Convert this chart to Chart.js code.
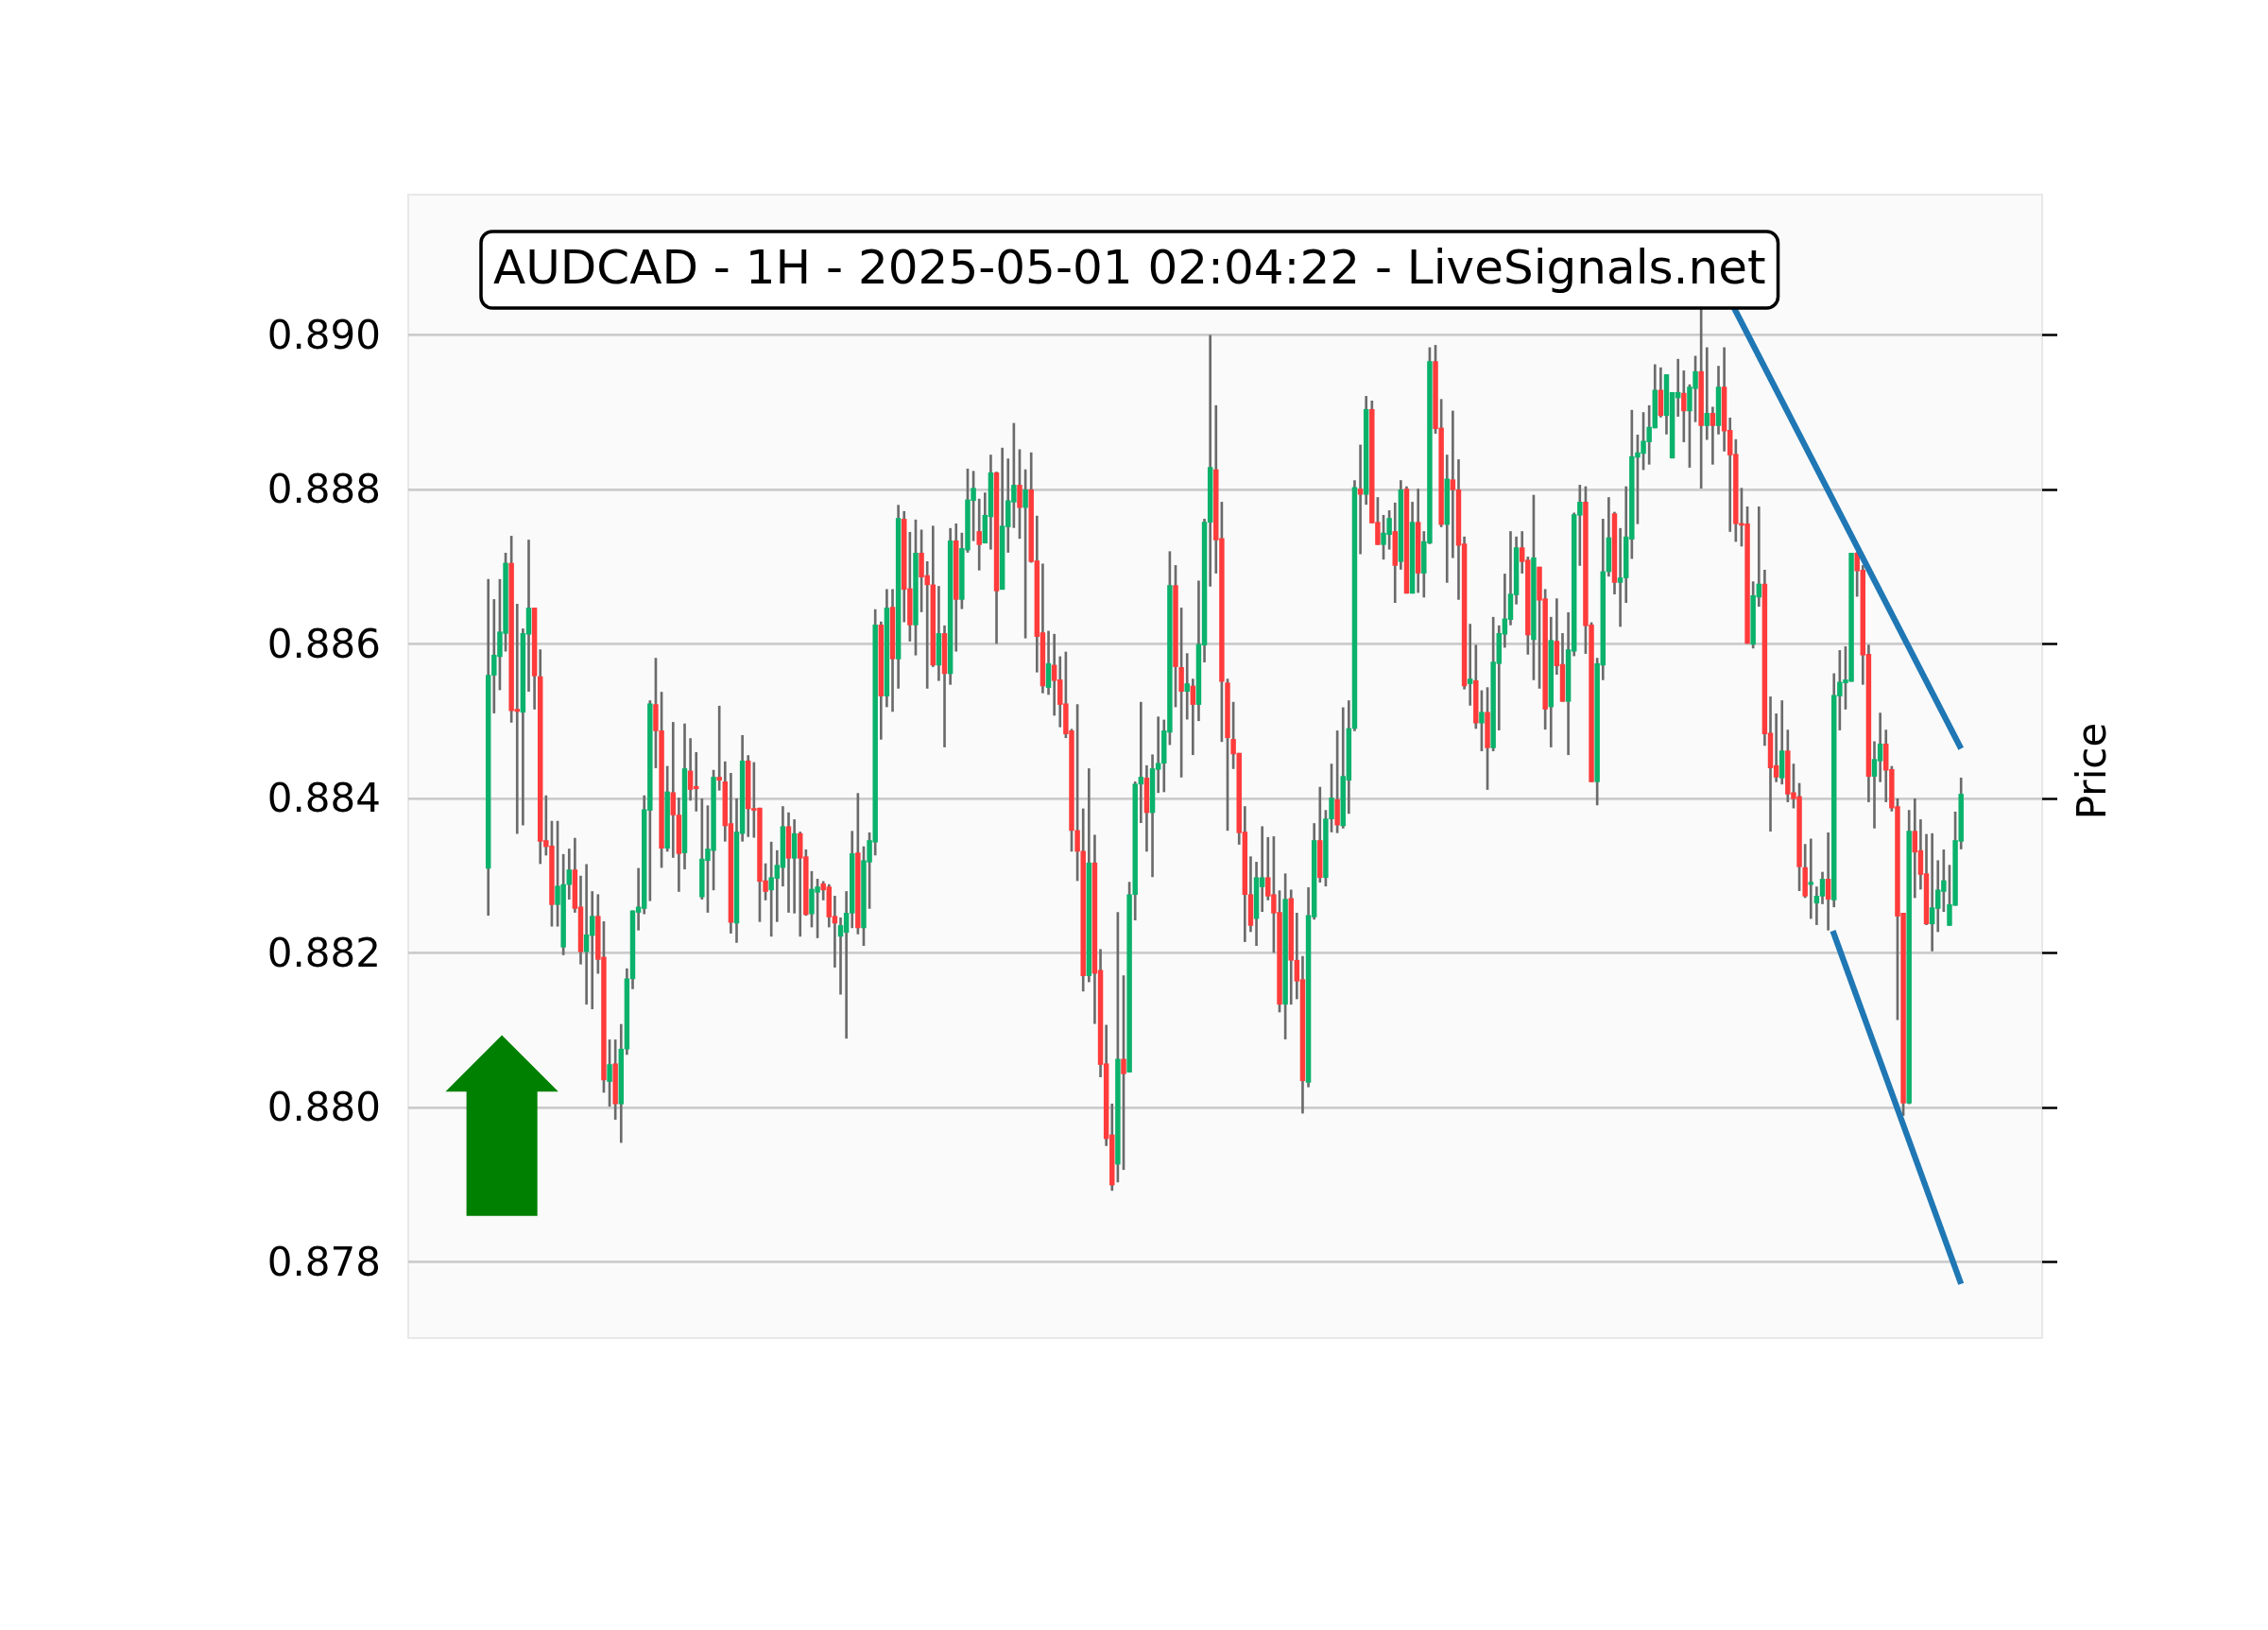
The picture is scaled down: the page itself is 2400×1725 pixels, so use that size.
<!DOCTYPE html>
<html>
<head>
<meta charset="utf-8">
<script src="https://cdn.jsdelivr.net/npm/chart.js@4.4.1/dist/chart.umd.min.js"></script>
<style>
  html, body { margin: 0; padding: 0; background: #ffffff; }
  canvas { display: block; }
</style>
</head>
<body>
<canvas id="candle_Chart" width="2400" height="1725"></canvas>
<script>
// dados das velas (AUDCAD 1H)
const abertura = [
  0.88310,0.88560,0.88584,0.88614,0.88705,0.88516,0.88512,0.88613,0.88647,0.88558,
  0.88346,0.88339,0.88263,0.88208,0.88289,0.88308,0.88260,0.88202,0.88223,0.88248,
  0.88195,0.88034,0.88057,0.88005,0.88076,0.88167,0.88253,0.88258,0.88385,0.88522,
  0.88488,0.88336,0.88408,0.88379,0.88330,0.88436,0.88416,0.88273,0.88320,0.88333,
  0.88428,0.88422,0.88368,0.88239,0.88355,0.88449,0.88387,0.88388,0.88294,0.88282,
  0.88297,0.88311,0.88364,0.88323,0.88355,0.88325,0.88251,0.88279,0.88290,0.88286,
  0.88248,0.88222,0.88227,0.88252,0.88330,0.88233,0.88318,0.88344,0.88625,0.88533,
  0.88648,0.88581,0.88762,0.88672,0.88625,0.88718,0.88689,0.88677,0.88573,0.88614,
  0.88562,0.88734,0.88658,0.88722,0.88786,0.88746,0.88731,0.88765,0.88822,0.88671,
  0.88752,0.88784,0.88806,0.88777,0.88800,0.88708,0.88615,0.88544,0.88573,0.88554,
  0.88523,0.88488,0.88359,0.88332,0.88171,0.88317,0.88178,0.88057,0.87965,0.87927,
  0.88063,0.88046,0.88276,0.88419,0.88427,0.88382,0.88438,0.88446,0.88486,0.88676,
  0.88570,0.88539,0.88546,0.88522,0.88599,0.88758,0.88826,0.88737,0.88550,0.88477,
  0.88459,0.88357,0.88276,0.88245,0.88286,0.88298,0.88276,0.88253,0.88134,0.88271,
  0.88191,0.88166,0.88033,0.88247,0.88346,0.88298,0.88374,0.88399,0.88365,0.88424,
  0.88491,0.88801,0.88794,0.88904,0.88758,0.88729,0.88742,0.88746,0.88707,0.88801,
  0.88666,0.88758,0.88692,0.88731,0.88966,0.88880,0.88755,0.88813,0.88800,0.88730,
  0.88549,0.88553,0.88498,0.88512,0.88466,0.88575,0.88613,0.88632,0.88664,0.88725,
  0.88709,0.88606,0.88700,0.88659,0.88519,0.88604,0.88574,0.88526,0.88591,0.88767,
  0.88784,0.88625,0.88422,0.88573,0.88694,0.88769,0.88680,0.88686,0.88736,0.88842,
  0.88847,0.88862,0.88880,0.88929,0.88896,0.88841,0.88919,0.88925,0.88902,0.88931,
  0.88953,0.88883,0.88899,0.88883,0.88933,0.88877,0.88846,0.88756,0.88756,0.88600,
  0.88661,0.88678,0.88485,0.88443,0.88427,0.88462,0.88408,0.88403,0.88311,0.88289,
  0.88265,0.88274,0.88296,0.88269,0.88533,0.88550,0.88552,0.88718,0.88696,0.88587,
  0.88429,0.88449,0.88471,0.88438,0.88390,0.88252,0.88006,0.88358,0.88333,0.88303,
  0.88238,0.88258,0.88280,0.88236,0.88262,0.88345
];
const maxima = [
  0.88684,0.88658,0.88684,0.88718,0.88740,0.88652,0.88620,0.88735,0.88647,0.88593,
  0.88404,0.88371,0.88371,0.88328,0.88335,0.88349,0.88300,0.88315,0.88280,0.88276,
  0.88241,0.88088,0.88088,0.88108,0.88180,0.88255,0.88310,0.88404,0.88527,0.88582,
  0.88538,0.88442,0.88499,0.88401,0.88497,0.88478,0.88460,0.88400,0.88391,0.88437,
  0.88520,0.88448,0.88433,0.88400,0.88482,0.88456,0.88447,0.88388,0.88316,0.88344,
  0.88333,0.88390,0.88382,0.88373,0.88357,0.88334,0.88306,0.88296,0.88293,0.88289,
  0.88274,0.88246,0.88280,0.88358,0.88407,0.88338,0.88356,0.88645,0.88629,0.88671,
  0.88671,0.88780,0.88772,0.88745,0.88761,0.88748,0.88707,0.88753,0.88675,0.88624,
  0.88750,0.88756,0.88744,0.88827,0.88824,0.88788,0.88796,0.88845,0.88823,0.88854,
  0.88840,0.88886,0.88852,0.88826,0.88848,0.88766,0.88704,0.88617,0.88613,0.88584,
  0.88590,0.88490,0.88522,0.88387,0.88439,0.88353,0.88205,0.88107,0.88005,0.88253,
  0.88171,0.88292,0.88422,0.88525,0.88443,0.88457,0.88506,0.88502,0.88720,0.88702,
  0.88647,0.88588,0.88555,0.88682,0.88762,0.89000,0.88909,0.88784,0.88555,0.88525,
  0.88459,0.88390,0.88325,0.88318,0.88364,0.88350,0.88351,0.88281,0.88303,0.88282,
  0.88252,0.88196,0.88285,0.88368,0.88415,0.88385,0.88445,0.88488,0.88518,0.88527,
  0.88812,0.88858,0.88921,0.88915,0.88790,0.88767,0.88773,0.88783,0.88812,0.88804,
  0.88784,0.88801,0.88746,0.88984,0.88987,0.88917,0.88845,0.88902,0.88839,0.88739,
  0.88626,0.88599,0.88540,0.88544,0.88635,0.88624,0.88691,0.88746,0.88739,0.88746,
  0.88713,0.88793,0.88700,0.88671,0.88635,0.88659,0.88614,0.88641,0.88770,0.88806,
  0.88804,0.88628,0.88582,0.88762,0.88790,0.88771,0.88750,0.88804,0.88903,0.88871,
  0.88900,0.88909,0.88962,0.88958,0.88949,0.88926,0.88969,0.88954,0.88936,0.88973,
  0.89042,0.88984,0.88907,0.88960,0.88984,0.88893,0.88865,0.88802,0.88778,0.88681,
  0.88778,0.88696,0.88532,0.88510,0.88527,0.88489,0.88445,0.88420,0.88341,0.88348,
  0.88286,0.88305,0.88356,0.88562,0.88592,0.88597,0.88718,0.88719,0.88702,0.88599,
  0.88474,0.88511,0.88489,0.88442,0.88400,0.88252,0.88385,0.88400,0.88373,0.88354,
  0.88355,0.88320,0.88334,0.88314,0.88383,0.88427
];
const minima = [
  0.88249,0.88511,0.88541,0.88591,0.88499,0.88355,0.88366,0.88539,0.88516,0.88316,
  0.88327,0.88235,0.88235,0.88198,0.88270,0.88253,0.88186,0.88134,0.88128,0.88174,
  0.88020,0.88002,0.87985,0.87955,0.88069,0.88154,0.88230,0.88251,0.88268,0.88440,
  0.88311,0.88332,0.88324,0.88280,0.88309,0.88398,0.88384,0.88270,0.88253,0.88282,
  0.88411,0.88345,0.88226,0.88214,0.88345,0.88351,0.88350,0.88241,0.88269,0.88222,
  0.88241,0.88287,0.88253,0.88252,0.88222,0.88249,0.88234,0.88220,0.88269,0.88234,
  0.88182,0.88147,0.88090,0.88233,0.88225,0.88210,0.88258,0.88327,0.88477,0.88519,
  0.88513,0.88543,0.88629,0.88604,0.88586,0.88642,0.88543,0.88571,0.88553,0.88467,
  0.88548,0.88591,0.88646,0.88719,0.88734,0.88696,0.88731,0.88723,0.88601,0.88671,
  0.88719,0.88751,0.88737,0.88608,0.88706,0.88564,0.88537,0.88535,0.88508,0.88493,
  0.88479,0.88332,0.88294,0.88151,0.88163,0.88109,0.88040,0.87951,0.87893,0.87904,
  0.87920,0.88046,0.88243,0.88369,0.88332,0.88299,0.88408,0.88409,0.88470,0.88519,
  0.88428,0.88503,0.88457,0.88501,0.88577,0.88675,0.88692,0.88474,0.88359,0.88439,
  0.88341,0.88215,0.88228,0.88210,0.88254,0.88269,0.88201,0.88124,0.88089,0.88134,
  0.88141,0.87993,0.88027,0.88244,0.88292,0.88287,0.88357,0.88356,0.88362,0.88381,
  0.88488,0.88717,0.88781,0.88757,0.88729,0.88710,0.88723,0.88654,0.88697,0.88666,
  0.88666,0.88667,0.88661,0.88730,0.88873,0.88752,0.88680,0.88712,0.88658,0.88542,
  0.88521,0.88491,0.88462,0.88412,0.88462,0.88489,0.88596,0.88625,0.88652,0.88692,
  0.88587,0.88554,0.88543,0.88490,0.88467,0.88561,0.88526,0.88457,0.88585,0.88702,
  0.88588,0.88422,0.88392,0.88554,0.88688,0.88665,0.88623,0.88654,0.88711,0.88756,
  0.88826,0.88833,0.88880,0.88894,0.88872,0.88841,0.88895,0.88862,0.88829,0.88888,
  0.88802,0.88865,0.88833,0.88872,0.88850,0.88746,0.88733,0.88727,0.88601,0.88595,
  0.88649,0.88469,0.88358,0.88422,0.88419,0.88396,0.88388,0.88281,0.88272,0.88245,
  0.88237,0.88264,0.88230,0.88260,0.88489,0.88516,0.88552,0.88662,0.88548,0.88396,
  0.88362,0.88422,0.88396,0.88384,0.88114,0.87990,0.88005,0.88272,0.88283,0.88237,
  0.88203,0.88228,0.88254,0.88236,0.88262,0.88335
];
const fechamento = [
  0.88560,0.88586,0.88616,0.88705,0.88514,0.88513,0.88614,0.88647,0.88559,0.88345,
  0.88338,0.88263,0.88287,0.88289,0.88308,0.88258,0.88202,0.88224,0.88248,0.88192,
  0.88036,0.88056,0.88005,0.88076,0.88167,0.88255,0.88260,0.88386,0.88523,0.88488,
  0.88336,0.88409,0.88379,0.88329,0.88439,0.88412,0.88413,0.88322,0.88335,0.88428,
  0.88424,0.88365,0.88240,0.88357,0.88449,0.88387,0.88385,0.88293,0.88280,0.88298,
  0.88314,0.88364,0.88323,0.88355,0.88323,0.88250,0.88283,0.88286,0.88282,0.88247,
  0.88239,0.88236,0.88252,0.88329,0.88233,0.88320,0.88346,0.88625,0.88533,0.88647,
  0.88581,0.88763,0.88671,0.88625,0.88718,0.88687,0.88677,0.88573,0.88614,0.88562,
  0.88734,0.88658,0.88724,0.88787,0.88802,0.88729,0.88767,0.88822,0.88669,0.88753,
  0.88786,0.88806,0.88777,0.88800,0.88707,0.88610,0.88546,0.88575,0.88553,0.88522,
  0.88484,0.88359,0.88332,0.88171,0.88317,0.88174,0.88056,0.87960,0.87900,0.88063,
  0.88044,0.88276,0.88419,0.88428,0.88382,0.88439,0.88446,0.88488,0.88676,0.88571,
  0.88539,0.88549,0.88522,0.88600,0.88758,0.88829,0.88735,0.88552,0.88479,0.88458,
  0.88356,0.88276,0.88236,0.88298,0.88298,0.88274,0.88252,0.88134,0.88270,0.88191,
  0.88164,0.88035,0.88249,0.88346,0.88298,0.88374,0.88401,0.88366,0.88429,0.88491,
  0.88803,0.88794,0.88904,0.88757,0.88729,0.88744,0.88763,0.88702,0.88800,0.88666,
  0.88758,0.88692,0.88733,0.88966,0.88879,0.88755,0.88814,0.88800,0.88728,0.88546,
  0.88555,0.88498,0.88512,0.88466,0.88577,0.88614,0.88633,0.88665,0.88725,0.88707,
  0.88612,0.88712,0.88657,0.88516,0.88605,0.88572,0.88526,0.88593,0.88768,0.88784,
  0.88624,0.88422,0.88575,0.88694,0.88738,0.88680,0.88686,0.88739,0.88843,0.88848,
  0.88863,0.88881,0.88929,0.88896,0.88949,0.88926,0.88926,0.88902,0.88933,0.88953,
  0.88883,0.88899,0.88883,0.88933,0.88876,0.88845,0.88756,0.88754,0.88601,0.88663,
  0.88678,0.88484,0.88440,0.88428,0.88462,0.88406,0.88400,0.88312,0.88274,0.88292,
  0.88274,0.88296,0.88270,0.88534,0.88551,0.88554,0.88718,0.88695,0.88586,0.88429,
  0.88451,0.88471,0.88437,0.88388,0.88248,0.88006,0.88358,0.88331,0.88302,0.88238,
  0.88259,0.88282,0.88294,0.88263,0.88346,0.88406
];
const ticksPreco = [0.878, 0.880, 0.882, 0.884, 0.886, 0.888, 0.890];

// linhas de tendência (índice da vela, preço)
const linhaSuperior = [{x: 212, y: 0.89089}, {x: 255, y: 0.88465}];
const linhaInferior = [{x: 232.8, y: 0.88229}, {x: 255, y: 0.87772}];

// seta de compra (índice da vela e preços)
const seta = {x: 2.36, ponta: 0.88094, baseCabeca: 0.88021, base: 0.87860, meiaCabeca: 9.77, meiaHaste: 6.14};

const titulo = 'AUDCAD - 1H - 2025-05-01 02:04:22 - LiveSignals.net';

const corAlta = '#0ab26b';
const corBaixa = '#ff3b3b';

const indices = abertura.map((_, i) => i);
const pavios = indices.map(i => ({x: i, y: [minima[i], maxima[i]]}));
const corpos = indices.map(i => ({x: i, y: [abertura[i], fechamento[i]]}));
const coresCorpo = indices.map(i => fechamento[i] >= abertura[i] ? corAlta : corBaixa);

const chartCanvas = document.getElementById('candle_Chart');

// fundo da área do gráfico
const fundo = {
  id: 'fundo',
  beforeDraw(chart) {
    const {ctx, chartArea: a} = chart;
    ctx.save();
    ctx.fillStyle = '#fafafa';
    ctx.fillRect(a.left, a.top, a.right - a.left, a.bottom - a.top);
    ctx.strokeStyle = '#e8e8e8';
    ctx.lineWidth = 2;
    ctx.strokeRect(a.left, a.top, a.right - a.left, a.bottom - a.top);
    ctx.restore();
  }
};

// seta, caixa de título e rótulo "Price"
const anotacoes = {
  id: 'anotacoes',
  afterDraw(chart) {
    const {ctx, chartArea: a} = chart;
    const x = chart.scales.x, y = chart.scales.y;
    const px = v => x.getPixelForValue(v);
    const py = v => y.getPixelForValue(v);
    ctx.save();
    ctx.fillStyle = '#008000';
    ctx.beginPath();
    ctx.moveTo(px(seta.x), py(seta.ponta));
    ctx.lineTo(px(seta.x + seta.meiaCabeca), py(seta.baseCabeca));
    ctx.lineTo(px(seta.x + seta.meiaHaste), py(seta.baseCabeca));
    ctx.lineTo(px(seta.x + seta.meiaHaste), py(seta.base));
    ctx.lineTo(px(seta.x - seta.meiaHaste), py(seta.base));
    ctx.lineTo(px(seta.x - seta.meiaHaste), py(seta.baseCabeca));
    ctx.lineTo(px(seta.x - seta.meiaCabeca), py(seta.baseCabeca));
    ctx.closePath();
    ctx.fill();

    ctx.font = '50px "DejaVu Sans"';
    const largura = ctx.measureText(titulo).width;
    const pad = 13;
    const bx = 509, by = 245, bw = largura + 2 * pad, bh = 81;
    ctx.beginPath();
    ctx.roundRect(bx, by, bw, bh, 12);
    ctx.fillStyle = '#ffffff';
    ctx.fill();
    ctx.lineWidth = 3.5;
    ctx.strokeStyle = '#000000';
    ctx.stroke();
    ctx.fillStyle = '#000000';
    ctx.textAlign = 'left';
    ctx.textBaseline = 'middle';
    ctx.fillText(titulo, bx + pad, by + bh / 2 + 2);

    ctx.translate(2217, (a.top + a.bottom) / 2 + 5);
    ctx.rotate(-Math.PI / 2);
    ctx.font = '42px "DejaVu Sans"';
    ctx.textAlign = 'center';
    ctx.fillText('Price', 0, 0);
    ctx.restore();
  }
};

const fixarTicks = scale => { scale.ticks = ticksPreco.map(v => ({value: v})); };

const config = {
  type: 'bar',
  data: {
    datasets: [
      {
        label: 'pavios',
        data: pavios,
        backgroundColor: '#6b6b6b',
        barThickness: 2,
        grouped: false,
        order: 3,
        yAxisID: 'y'
      },
      {
        label: 'corpos',
        data: corpos,
        backgroundColor: coresCorpo,
        barThickness: 4.8,
        minBarLength: 2,
        grouped: false,
        order: 2,
        yAxisID: 'y'
      },
      {
        type: 'line',
        label: 'superior',
        data: linhaSuperior,
        borderColor: '#1f77b4',
        borderWidth: 6.25,
        pointRadius: 0,
        order: 1,
        yAxisID: 'y'
      },
      {
        type: 'line',
        label: 'inferior',
        data: linhaInferior,
        borderColor: '#1f77b4',
        borderWidth: 6.25,
        pointRadius: 0,
        order: 1,
        yAxisID: 'y'
      }
    ]
  },
  options: {
    responsive: false,
    devicePixelRatio: 1,
    animation: false,
    events: [],
    layout: { padding: { top: 206, bottom: 309, left: 0, right: 0 } },
    plugins: {
      legend: { display: false },
      tooltip: { enabled: false }
    },
    scales: {
      x: {
        type: 'linear',
        min: -13.86,
        max: 269.04,
        offset: false,
        display: false
      },
      y: {
        type: 'linear',
        position: 'left',
        min: 0.87702,
        max: 0.89182,
        afterBuildTicks: fixarTicks,
        afterFit: s => { s.width = 432; },
        ticks: {
          padding: 29,
          labelOffset: 3,
          color: '#000000',
          font: { family: 'DejaVu Sans', size: 42 },
          callback: v => v.toFixed(3)
        },
        grid: { color: '#cccccc', lineWidth: 2.8, drawTicks: false },
        border: { display: false }
      },
      y2: {
        type: 'linear',
        position: 'right',
        min: 0.87702,
        max: 0.89182,
        afterBuildTicks: fixarTicks,
        afterFit: s => { s.width = 239; },
        ticks: { callback: () => '' },
        grid: {
          drawOnChartArea: false,
          drawTicks: true,
          tickLength: 16,
          tickColor: '#000000',
          tickWidth: 2.5
        },
        border: { display: false }
      }
    }
  },
  plugins: [fundo, anotacoes]
};

// criando o gráfico
const myChart = new Chart(chartCanvas, config);
</script>
</body>
</html>
